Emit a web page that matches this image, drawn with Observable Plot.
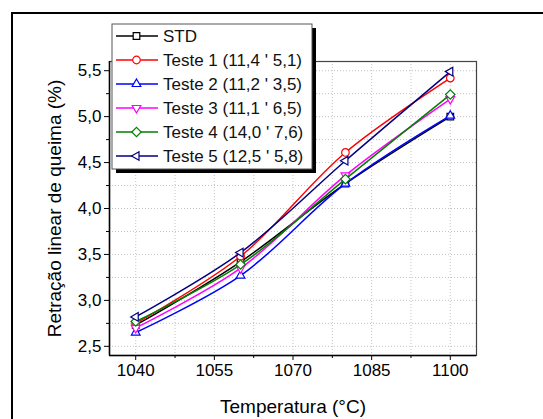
<!DOCTYPE html>
<html><head><meta charset="utf-8">
<script src="https://cdn.jsdelivr.net/npm/d3@7"></script>
<script src="https://cdn.jsdelivr.net/npm/@observablehq/plot@0.6"></script>
<style>
body{margin:0;background:#fff;}
#chart{position:relative;width:543px;height:419px;overflow:hidden;background:#fff;}
#chart svg{display:block;}
</style></head><body><div id="chart"></div>
<script>
// ---- data ----
const temps = [1040, 1060, 1080, 1100];
const seriesNames = ["STD", "Teste 1 (11,4 ' 5,1)", "Teste 2 (11,2 ' 3,5)", "Teste 3 (11,1 ' 6,5)", "Teste 4 (14,0 ' 7,6)", "Teste 5 (12,5 ' 5,8)"];
const std    = [2.73, 3.42, 4.27, 5.00];
const teste1 = [2.75, 3.48, 4.61, 5.42];
const teste2 = [2.65, 3.27, 4.27, 5.01];
const teste3 = [2.70, 3.35, 4.36, 5.19];
const teste4 = [2.77, 3.39, 4.32, 5.24];
const teste5 = [2.82, 3.52, 4.52, 5.49];
const seriesColors = ["#000000", "#ff0000", "#0000ff", "#ff00ff", "#008000", "#000080"];
const seriesSymbols = ["square", "circle", "triangleUp", "triangleDown", "diamond", "triangleLeft"];
const xTicks = [1040, 1055, 1070, 1085, 1100];
const xMinor = [1047.5, 1062.5, 1077.5, 1092.5];
const yTicks = [2.5, 3.0, 3.5, 4.0, 4.5, 5.0, 5.5];
const yMinor = [2.75, 3.25, 3.75, 4.25, 4.75, 5.25];
const xDomain = [1035, 1105];
const yDomain = [2.4, 5.6];
const xTitle = "Temperatura (°C)";
const yTitle = "Retração linear de queima (%)";

// ---- symbols ----
const symbolDefs = {
  square: {draw(c){const s=3.3; c.moveTo(-s,-s); c.lineTo(s,-s); c.lineTo(s,s); c.lineTo(-s,s); c.closePath();}},
  circle: {draw(c){const r=3.8; c.moveTo(r,0); c.arc(0,0,r,0,2*Math.PI); c.closePath();}},
  triangleUp: {draw(c){const R=5; c.moveTo(0,-R); c.lineTo(R*0.866,R*0.5); c.lineTo(-R*0.866,R*0.5); c.closePath();}},
  triangleDown: {draw(c){const R=5; c.moveTo(0,R); c.lineTo(R*0.866,-R*0.5); c.lineTo(-R*0.866,-R*0.5); c.closePath();}},
  diamond: {draw(c){const d=4.7; c.moveTo(0,-d); c.lineTo(d,0); c.lineTo(0,d); c.lineTo(-d,0); c.closePath();}},
  triangleLeft: {draw(c){const R=5; c.moveTo(-R,0); c.lineTo(R*0.5,-R*0.866); c.lineTo(R*0.5,R*0.866); c.closePath();}}
};

const allValues = [std, teste1, teste2, teste3, teste4, teste5];
const seriesData = allValues.map((vals, i) => temps.map((t, j) => ({t, v: vals[j], s: seriesNames[i]})));

const fmtY = d => d.toFixed(1).replace(".", ",");

const marks = [
  Plot.gridX([...xTicks, ...xMinor], {stroke: "#c4c4c4", strokeOpacity: 1, strokeDasharray: "1,2"}),
  Plot.gridY([...yTicks, ...yMinor], {stroke: "#c4c4c4", strokeOpacity: 1, strokeDasharray: "1,2"}),
  Plot.frame({stroke: "#444", strokeWidth: 1.2}),
  Plot.ruleX([xDomain[0]], {stroke: "#000", strokeWidth: 1.5}),
  Plot.ruleY([yDomain[0]], {stroke: "#000", strokeWidth: 1.5}),
  Plot.axisX({ticks: xTicks, tickSize: 5, tickPadding: 3, tickFormat: d => String(d), label: null, fontSize: 17}),
  Plot.axisX({ticks: xMinor, tickSize: 3, tickFormat: () => "", label: null}),
  Plot.axisY({ticks: yTicks, tickSize: 5, tickPadding: 3, tickFormat: fmtY, label: null, fontSize: 17}),
  Plot.axisY({ticks: yMinor, tickSize: 3, tickFormat: () => "", label: null}),
  Plot.text([xTitle], {frameAnchor: "bottom", dy: 57, fontSize: 19, textAnchor: "middle"}),
  Plot.text([yTitle], {frameAnchor: "left", dx: -55, rotate: -90, fontSize: 19, textAnchor: "middle"})
];
seriesData.forEach((data, i) => {
  marks.push(Plot.line(data, {x: "t", y: "v", stroke: seriesColors[i], strokeWidth: 1.5, curve: "catmull-rom"}));
  marks.push(Plot.dot(data, {x: "t", y: "v", symbol: symbolDefs[seriesSymbols[i]], r: 4, stroke: seriesColors[i], fill: "#fff", strokeWidth: 1.2}));
});

const chart = Plot.plot({
  width: 543,
  height: 419,
  marginLeft: 109,
  marginRight: 67,
  marginTop: 61,
  marginBottom: 64,
  style: {fontFamily: "'Liberation Sans', Arial, sans-serif", fontSize: "17px", background: "#fff", color: "#000"},
  x: {domain: xDomain, axis: null},
  y: {domain: yDomain, axis: null},
  marks
});

document.getElementById("chart").appendChild(chart);

// ---- legend & outer frame (layout decoration) ----
const svg = d3.select(chart);
const lg = svg.append("g").attr("class", "legend");
const lx = 112, ly = 24, lw = 200, lh = 145;
lg.append("rect").attr("x", lx + 4).attr("y", ly + 4).attr("width", lw).attr("height", lh).attr("fill", "#000");
lg.append("rect").attr("x", lx).attr("y", ly).attr("width", lw).attr("height", lh).attr("fill", "#fff").attr("stroke", "#555").attr("stroke-width", 1);
seriesNames.forEach((name, i) => {
  const y = ly + 12 + i * 24;
  lg.append("line").attr("x1", lx + 4).attr("x2", lx + 46).attr("y1", y).attr("y2", y)
    .attr("stroke", seriesColors[i]).attr("stroke-width", 1.5);
  const p = d3.path();
  symbolDefs[seriesSymbols[i]].draw(p);
  lg.append("path").attr("d", p.toString()).attr("transform", `translate(${lx + 24.5},${y})`)
    .attr("fill", "#fff").attr("stroke", seriesColors[i]).attr("stroke-width", 1.2);
  lg.append("text").attr("x", lx + 51).attr("y", y).attr("dy", "0.35em")
    .attr("text-anchor", "start").attr("font-size", 17).attr("fill", "#111").text(name);
});
svg.append("rect").attr("x", 12).attr("y", 13).attr("width", 800).attr("height", 800)
  .attr("fill", "none").attr("stroke", "#000").attr("stroke-width", 2);
</script>
</body></html>
